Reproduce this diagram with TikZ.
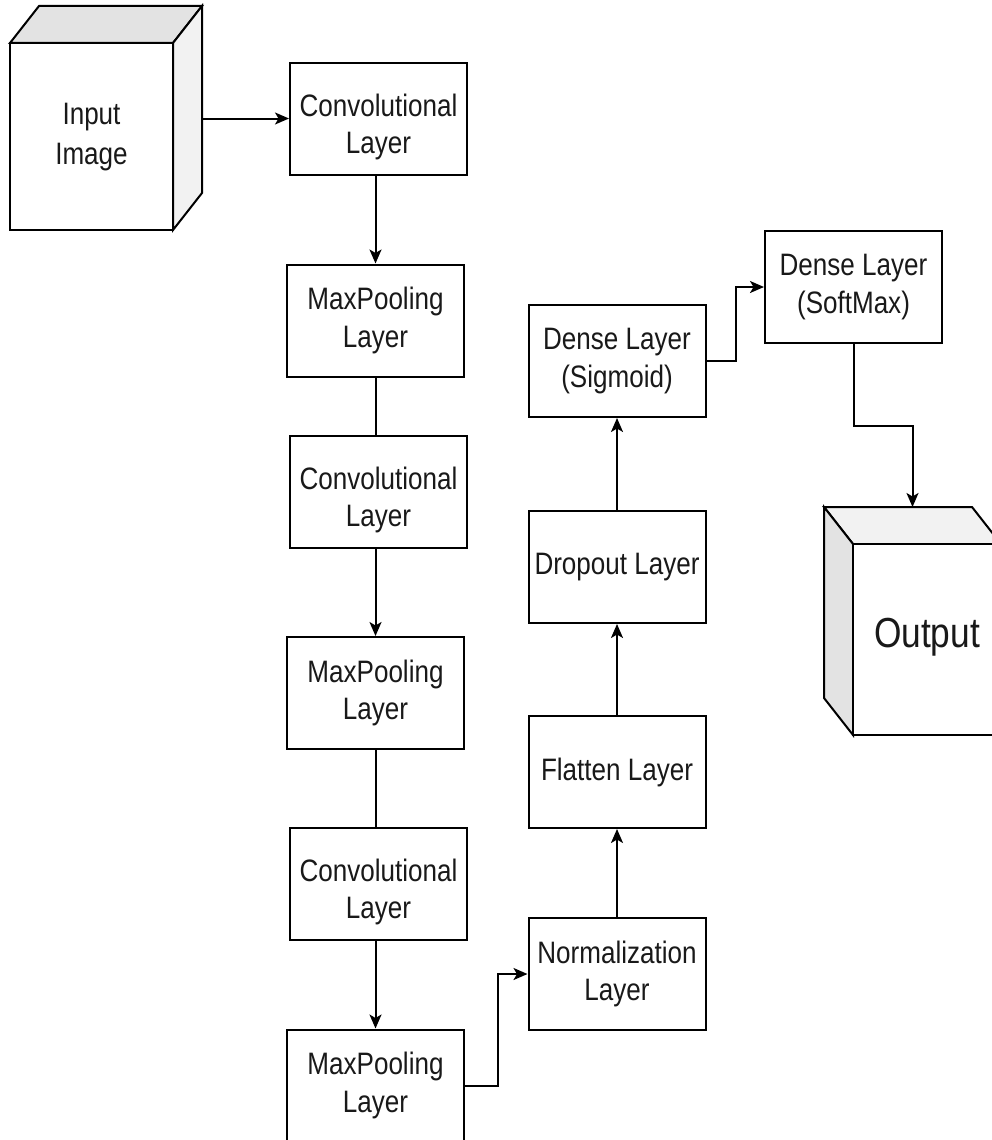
\documentclass[tikz,border=0pt]{standalone}
\usepackage{fontspec}
\setmainfont{Liberation Sans}[FakeStretch=0.84]
\usetikzlibrary{arrows.meta,calc}
\newcommand{\convlift}{\rule{0pt}{38.5pt}}
\begin{document}
\begin{tikzpicture}[x=1pt,y=-1pt]
\tikzset{
  layer/.style={draw, line width=2pt, fill=white, minimum width=177pt, minimum height=112pt,
    align=center, inner sep=0pt, font=\fontsize{31}{37.5}\selectfont, text=black!90},
  cubeline/.style={draw, line width=2pt, line join=miter},
  conn/.style={line width=2pt},
  arr/.style={conn, -{Stealth[length=14pt,width=12pt,inset=3.5pt]}},
  lbl/.style={align=center, inner sep=0pt, text=black!90}
}
\useasboundingbox (0,0) rectangle (992,1140);
\clip (0,0) rectangle (992,1140);

% Input cube
\path[cubeline, fill=black!11] (10,43) -- (39,6) -- (202,6) -- (173,43) -- cycle;
\path[cubeline, fill=black!5] (173,43) -- (202,6) -- (202,193) -- (173,230) -- cycle;
\path[cubeline, fill=white] (10,43) rectangle (173,230);
\node[lbl, font=\fontsize{31}{40}\selectfont] (input) at (91.5,137.5) {Input\\Image};
\coordinate (inR) at (202,118.5);

% Left column
\node[layer] (conv1) at (378.5,119) {\convlift Convolutional\\Layer};
\node[layer] (mp1) at (375.5,320.5) {MaxPooling\\Layer};
\node[layer] (conv2) at (378.5,492) {\convlift Convolutional\\Layer};
\node[layer] (mp2) at (375.5,693) {MaxPooling\\Layer};
\node[layer] (conv3) at (378.5,884) {\convlift Convolutional\\Layer};
\node[layer] (mp3) at (375.5,1085.5) {MaxPooling\\Layer};

% Right column
\node[layer] (norm) at (617,974) {Normalization\\Layer};
\node[layer] (flat) at (617,772) {Flatten Layer};
\node[layer] (drop) at (617,567) {Dropout Layer};
\node[layer] (dsig) at (617,361) {Dense Layer\\(Sigmoid)};
\node[layer] (dsoft) at (853.5,287) {Dense Layer\\(SoftMax)};

% Output cube
\path[cubeline, fill=black!5] (824,507) -- (972,507) -- (1001,544) -- (853,544) -- cycle;
\path[cubeline, fill=black!11] (824,507) -- (853,544) -- (853,735) -- (824,698) -- cycle;
\path[cubeline, fill=white] (853,544) rectangle (1001,735);
\node[lbl, font=\fontsize{42}{50}\selectfont] (output) at (927,637) {Output};
\coordinate (outT) at (912.5,507);

% Connectors
\draw[arr] (inR) -- (inR -| conv1.west);
\draw[arr] (conv1.south -| mp1.center) -- (mp1.north);
\draw[conn] (mp1.south) -- (mp1.south |- conv2.north);
\draw[arr] (conv2.south -| mp2.center) -- (mp2.north);
\draw[conn] (mp2.south) -- (mp2.south |- conv3.north);
\draw[arr] (conv3.south -| mp3.center) -- (mp3.north);
\draw[arr] (mp3.east) -- ++(32.5,0) |- (norm.west);
\draw[arr] (norm.north) -- (flat.south);
\draw[arr] (flat.north) -- (drop.south);
\draw[arr] (drop.north) -- (dsig.south);
\draw[arr] (dsig.east) -- ++(29,0) |- (dsoft.west);
\draw[arr] (dsoft.south) -- ++(0,82) -| (outT);
\end{tikzpicture}
\end{document}
